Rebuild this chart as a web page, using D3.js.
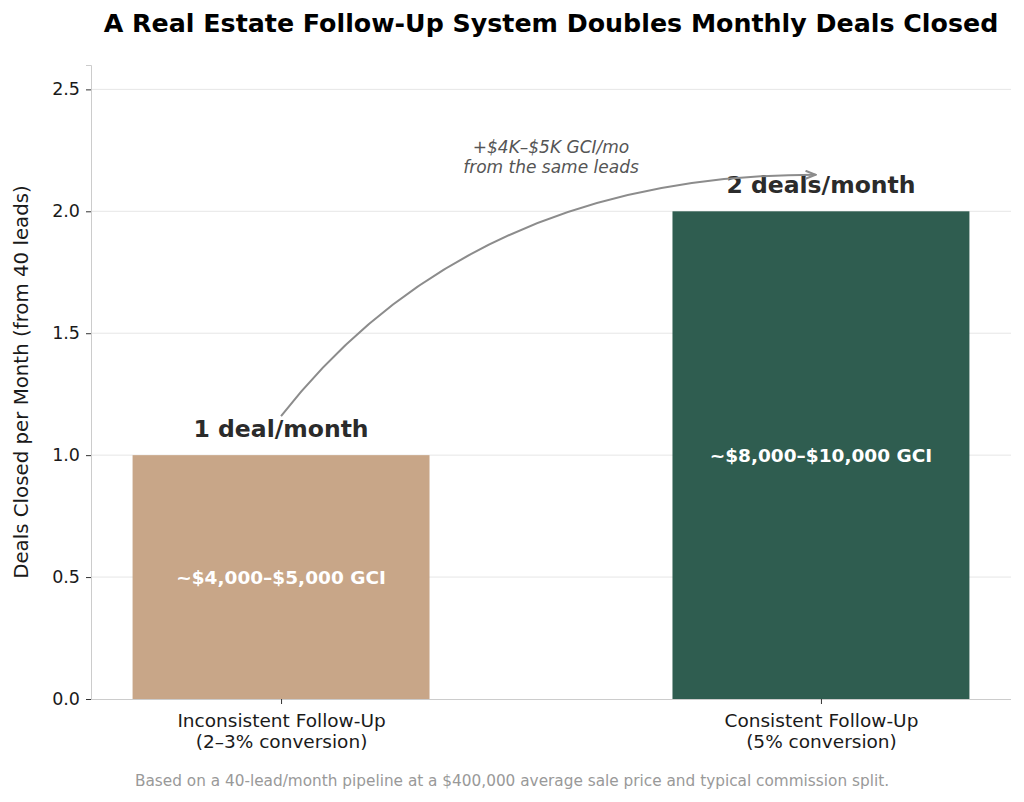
<!DOCTYPE html>
<html>
<head>
<meta charset="utf-8">
<script src="https://cdn.jsdelivr.net/npm/d3@7"></script>
<style>
  body { margin: 0; background: #fff; }
  svg text { font-family: "DejaVu Sans", sans-serif; }
</style>
</head>
<body>
<div id="chart"></div>
<script>
// data
const categories = ["Inconsistent Follow-Up|(2–3% conversion)", "Consistent Follow-Up|(5% conversion)"];
const dealsPerMonth = [1, 2];
const topLabels = ["1 deal/month", "2 deals/month"];
const gciLabels = ["~$4,000–$5,000 GCI", "~$8,000–$10,000 GCI"];
const barColors = ["#C8A688", "#2F5D50"];
const yTicks = [0, 0.5, 1.0, 1.5, 2.0, 2.5];
// arrow: start, control, end (data units)
const arrowPts = [[0, 1.16], [0.35, 2.15], [0.99, 2.15]];
const arrowNote = ["+$4K–$5K GCI/mo", "from the same leads"];

const width = 1024, height = 802;
const margin = { top: 65, right: 13, bottom: 103, left: 91 };

const svg = d3.select("#chart").append("svg")
    .attr("width", width)
    .attr("height", height);

const x = d3.scaleLinear()
    .domain([-0.352, 1.352])
    .range([margin.left, width - margin.right]);
const y = d3.scaleLinear()
    .domain([0, 2.6])
    .range([height - margin.bottom, margin.top]);
const barW = 0.55;

// grid lines
svg.append("g")
    .selectAll("line")
    .data(yTicks.filter(d => d > 0))
    .enter().append("line")
    .attr("x1", margin.left).attr("x2", width - margin.right)
    .attr("y1", d => y(d)).attr("y2", d => y(d))
    .attr("stroke", "#e6e6e6")
    .attr("stroke-width", 1);

// bars
svg.append("g")
    .selectAll("rect")
    .data(dealsPerMonth)
    .enter().append("rect")
    .attr("x", (d, i) => x(i - barW / 2))
    .attr("width", (d, i) => x(i + barW / 2) - x(i - barW / 2))
    .attr("y", d => y(d))
    .attr("height", d => y(0) - y(d))
    .attr("fill", (d, i) => barColors[i]);

// y axis
const yAxis = svg.append("g")
    .attr("transform", "translate(" + margin.left + ",0)")
    .call(d3.axisLeft(y).tickValues(yTicks).tickFormat(d3.format(".1f")).tickSize(5).tickPadding(6));
yAxis.select(".domain").attr("stroke", "#cccccc");
yAxis.selectAll(".tick line").attr("stroke", "#333");
yAxis.selectAll(".tick text").style("font-size", "17.5px").attr("fill", "#1a1a1a");

// x axis
const xAxis = svg.append("g")
    .attr("transform", "translate(0," + y(0) + ")")
    .call(d3.axisBottom(x).tickValues([0, 1]).tickSize(5).tickFormat(""));
xAxis.select(".domain").attr("stroke", "#cccccc").attr("d", "M" + margin.left + ",0.5H" + (width - margin.right));
xAxis.selectAll(".tick line").attr("stroke", "#333");

xAxis.selectAll(".tick")
    .append("text")
    .attr("fill", "#1a1a1a")
    .attr("text-anchor", "middle")
    .style("font-size", "18.5px")
    .selectAll("tspan")
    .data(d => categories[d].split("|"))
    .enter().append("tspan")
    .attr("x", 0)
    .attr("y", (d, i) => 28 + i * 21)
    .text(d => d);

// y label
svg.append("text")
    .attr("transform", "translate(28," + y(1.3) + ") rotate(-90)")
    .attr("text-anchor", "middle")
    .style("font-size", "19.8px")
    .attr("fill", "#1a1a1a")
    .text("Deals Closed per Month (from 40 leads)");

// value labels above bars
svg.append("g")
    .selectAll("text")
    .data(dealsPerMonth)
    .enter().append("text")
    .attr("x", (d, i) => x(i))
    .attr("y", d => y(d) - 18)
    .attr("text-anchor", "middle")
    .style("font-size", "23.5px")
    .style("font-weight", "bold")
    .attr("fill", "#2b2b2b")
    .text((d, i) => topLabels[i]);

// GCI labels inside bars
svg.append("g")
    .selectAll("text")
    .data(dealsPerMonth)
    .enter().append("text")
    .attr("x", (d, i) => x(i))
    .attr("y", d => y(d / 2))
    .attr("dy", "0.35em")
    .attr("text-anchor", "middle")
    .style("font-size", "18.5px")
    .style("font-weight", "bold")
    .attr("fill", "#ffffff")
    .text((d, i) => gciLabels[i]);

// curved arrow
svg.append("defs").append("marker")
    .attr("id", "head")
    .attr("viewBox", "0 0 12 10")
    .attr("refX", 11).attr("refY", 5)
    .attr("markerWidth", 12).attr("markerHeight", 10)
    .attr("markerUnits", "userSpaceOnUse")
    .attr("orient", "auto")
    .append("path")
    .attr("d", "M1,1 L11,5 L1,9")
    .attr("fill", "none")
    .attr("stroke", "#8c8c8c")
    .attr("stroke-width", 2);

const p = arrowPts.map(d => [x(d[0]), y(d[1])]);
svg.append("path")
    .attr("d", "M" + p[0] + " Q" + p[1] + " " + p[2])
    .attr("fill", "none")
    .attr("stroke", "#8c8c8c")
    .attr("stroke-width", 2)
    .attr("marker-end", "url(#head)");

svg.append("text")
    .attr("x", x(0.5))
    .attr("y", y(2.24))
    .attr("text-anchor", "middle")
    .style("font-size", "17px")
    .style("font-style", "italic")
    .attr("fill", "#555555")
    .selectAll("tspan")
    .data(arrowNote)
    .enter().append("tspan")
    .attr("x", x(0.5))
    .attr("dy", (d, i) => i === 0 ? 0 : 20)
    .text(d => d);

// title
svg.append("text")
    .attr("x", (margin.left + width - margin.right) / 2)
    .attr("y", 32)
    .attr("text-anchor", "middle")
    .style("font-size", "25.3px")
    .style("font-weight", "bold")
    .attr("fill", "#000")
    .text("A Real Estate Follow-Up System Doubles Monthly Deals Closed");

// footer
svg.append("text")
    .attr("x", 512)
    .attr("y", 786)
    .attr("text-anchor", "middle")
    .style("font-size", "15.3px")
    .attr("fill", "#999999")
    .text("Based on a 40-lead/month pipeline at a $400,000 average sale price and typical commission split.");
</script>
</body>
</html>
